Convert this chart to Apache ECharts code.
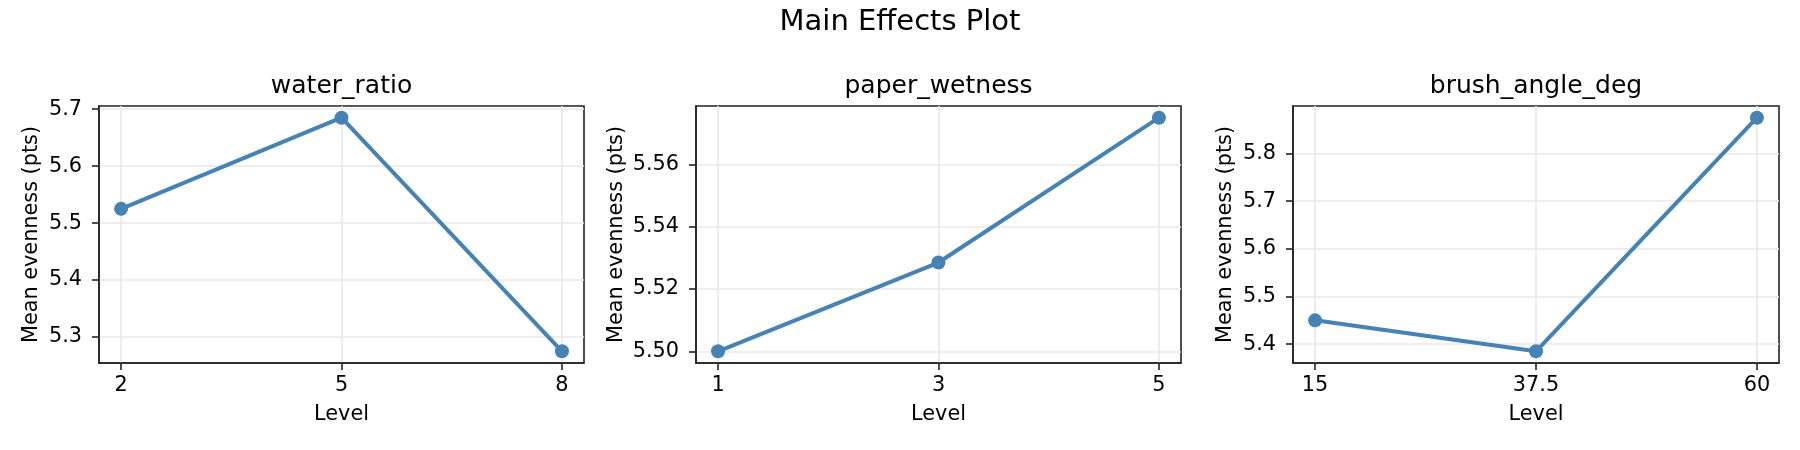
<!DOCTYPE html>
<html>
<head>
<meta charset="utf-8">
<script src="https://cdn.jsdelivr.net/npm/echarts@6/dist/echarts.min.js"></script>
<style>
  html, body { margin: 0; padding: 0; background: #fff; }
  #main { width: 1800px; height: 450px; }
</style>
</head>
<body>
<div id="main"></div>
<script>
// factor names and levels
const factors = ['water_ratio', 'paper_wetness', 'brush_angle_deg'];
const waterLevels = [2, 5, 8];
const wetnessLevels = [1, 3, 5];
const angleLevels = [15, 37.5, 60];
const xTickLabels = [['2', '5', '8'], ['1', '3', '5'], ['15', '37.5', '60']];

// mean evenness per level
const waterMeans = [5.525, 5.685, 5.275];
const wetnessMeans = [5.500, 5.5285, 5.575];
const angleMeans = [5.45, 5.385, 5.875];

// y tick values
const waterTicks = [5.3, 5.4, 5.5, 5.6, 5.7];
const wetnessTicks = [5.50, 5.52, 5.54, 5.56];
const angleTicks = [5.4, 5.5, 5.6, 5.7, 5.8];

const levels = [waterLevels, wetnessLevels, angleLevels];
const means = [waterMeans, wetnessMeans, angleMeans];
const yTicks = [waterTicks, wetnessTicks, angleTicks];
const yDecimals = [1, 2, 1];

const FONT = 'DejaVu Sans';
const INK = '#222222';
const GRIDC = '#e8e8e8';
const BLUE = '#4682b4';

// plot boxes
const boxes = [
  { left: 99, width: 485 },
  { left: 696, width: 485 },
  { left: 1293, width: 486 }
];
const boxTop = 106, boxHeight = 257;
const yNameGap = [57, 69, 57];

// matplotlib-like 5% margins
function padded(arr) {
  const lo = Math.min(...arr), hi = Math.max(...arr);
  const m = (hi - lo) * 0.05;
  return [lo - m, hi + m];
}

const grids = [], xAxes = [], yAxes = [], series = [], titles = [];

titles.push({
  text: 'Main Effects Plot',
  left: 900, top: 8, textAlign: 'center', padding: 0,
  textStyle: { fontFamily: FONT, fontSize: 29, fontWeight: 'normal', color: '#000' }
});

for (let i = 0; i < 3; i++) {
  const b = boxes[i];
  grids.push({
    left: b.left, width: b.width, top: boxTop, height: boxHeight,
    show: true, borderColor: INK, borderWidth: 1.6, backgroundColor: 'transparent'
  });
  titles.push({
    text: factors[i],
    left: b.left + b.width / 2, top: 74, textAlign: 'center', padding: 0,
    textStyle: { fontFamily: FONT, fontSize: 25, fontWeight: 'normal', color: '#000' }
  });
  const xr = padded(levels[i]);
  const yr = padded(means[i]);
  const labels = xTickLabels[i];
  const lv = levels[i];
  xAxes.push({
    gridIndex: i, type: 'value', min: xr[0], max: xr[1],
    name: 'Level', nameLocation: 'middle', nameGap: 41,
    nameTextStyle: { fontFamily: FONT, fontSize: 20.8, color: '#000' },
    axisLine: { show: true, onZero: false, lineStyle: { color: INK, width: 1.6 } },
    axisTick: { show: true, customValues: lv, length: 7, lineStyle: { color: INK, width: 1.6 } },
    axisLabel: {
      customValues: lv, margin: 12,
      fontFamily: FONT, fontSize: 20.8, color: '#000',
      formatter: v => labels[lv.indexOf(v)]
    },
    splitLine: { show: true, lineStyle: { color: GRIDC, width: 1.6 } }
  });
  const dec = yDecimals[i];
  yAxes.push({
    gridIndex: i, type: 'value', min: yr[0], max: yr[1],
    name: 'Mean evenness (pts)', nameLocation: 'middle', nameGap: yNameGap[i],
    nameTextStyle: { fontFamily: FONT, fontSize: 20.8, color: '#000' },
    axisLine: { show: true, onZero: false, lineStyle: { color: INK, width: 1.6 } },
    axisTick: { show: true, customValues: yTicks[i], length: 7, lineStyle: { color: INK, width: 1.6 } },
    axisLabel: {
      customValues: yTicks[i], margin: 17,
      fontFamily: FONT, fontSize: 20.8, color: '#000',
      formatter: v => v.toFixed(dec)
    },
    splitLine: { show: true, lineStyle: { color: GRIDC, width: 1.6 } }
  });
  series.push({
    type: 'line', xAxisIndex: i, yAxisIndex: i,
    data: lv.map((x, k) => [x, means[i][k]]),
    symbol: 'circle', symbolSize: 14,
    itemStyle: { color: BLUE },
    lineStyle: { color: BLUE, width: 4 },
    z: 3
  });
}

const chart = echarts.init(document.getElementById('main'), null, { renderer: 'canvas' });
chart.setOption({
  animation: false,
  backgroundColor: '#fff',
  textStyle: { fontFamily: FONT },
  title: titles,
  grid: grids,
  xAxis: xAxes,
  yAxis: yAxes,
  series: series
});
</script>
</body>
</html>
